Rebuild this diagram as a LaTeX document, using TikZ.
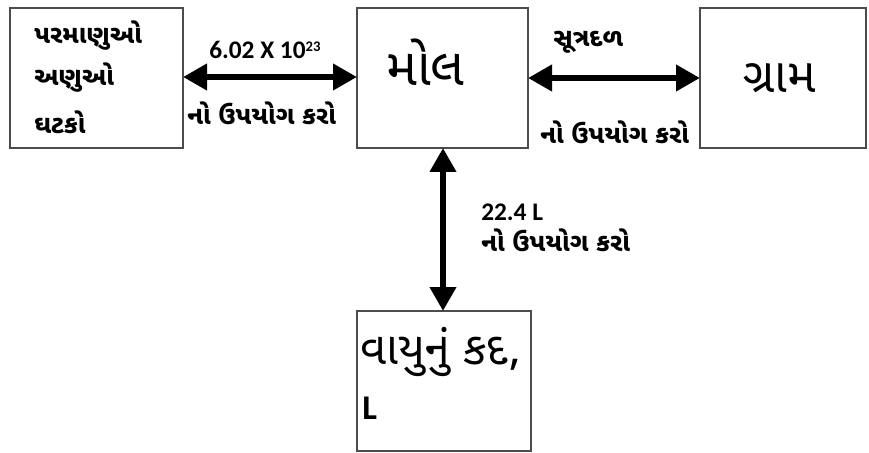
\documentclass[tikz,border=0pt]{standalone}
\usepackage{fontspec}
\setmainfont{Carlito}
\newfontfamily\guj[Script=Gujarati]{Noto Sans Gujarati UI}
\usetikzlibrary{arrows.meta}
\begin{document}
\begin{tikzpicture}[x=0.75pt,y=-0.75pt,
  conn/.style={line width=4.5pt,{Triangle[length=18pt,width=19pt]}-{Triangle[length=18pt,width=19pt]}},
  lab/.style={inner sep=0pt,anchor=west,font=\guj\bfseries\fontsize{19}{22}\selectfont},
  big/.style={inner sep=0pt,anchor=west,font=\guj\fontsize{36}{40}\selectfont},
  num/.style={inner sep=0pt,anchor=west,font=\bfseries\fontsize{19}{21}\selectfont}]
\useasboundingbox (0,0) rectangle (869,453);
\fill[white] (0,0) rectangle (869,453);
\draw[black!70,line width=1.5pt] (10,8) rectangle (183,148);
\draw[black!70,line width=1.5pt] (357,8) rectangle (528,148);
\draw[black!70,line width=1.5pt] (700,8) rectangle (866,148);
\draw[black!70,line width=1.5pt] (357,311) rectangle (531,451);
\coordinate (aR) at (183,77);
\coordinate (mL) at (357,77);
\coordinate (mR) at (528,78);
\coordinate (gL) at (700,78);
\coordinate (mB) at (443,148);
\coordinate (vT) at (443,311);
\node[lab] (t1) at (34,36) {પરમાણુઓ};
\node[lab] (t2) at (34,78) {અણુઓ};
\node[lab] (t3) at (34,122) {ઘટકો};
\node[big,font=\guj\fontsize{39}{42}\selectfont] (tm) at (386,62) {મોલ};
\node[big] (tg) at (743,78) {ગ્રામ};
\node[big,font=\guj\fontsize{34}{38}\selectfont] (tv) at (360,352) {વાયુનું કદ,};
\node[num,font=\bfseries\fontsize{26}{28}\selectfont] (tl) at (362,408) {L};
\draw[conn] (aR) -- (mL);
\draw[conn] (mR) -- (gL);
\draw[conn] (mB) -- (vT);
\node[num] (n1) at (209,50) {6.02 X 10\raisebox{0.55ex}{\fontsize{11}{12}\selectfont 23}};
\node[lab] (u1) at (187,113) {નો ઉપયોગ કરો};
\node[lab] (s1) at (553,42) {સૂત્રદળ};
\node[lab] (u2) at (540,132) {નો ઉપયોગ કરો};
\node[num] (n2) at (481,212) {22.4 L};
\node[lab] (u3) at (481,240) {નો ઉપયોગ કરો};
\end{tikzpicture}
\end{document}
